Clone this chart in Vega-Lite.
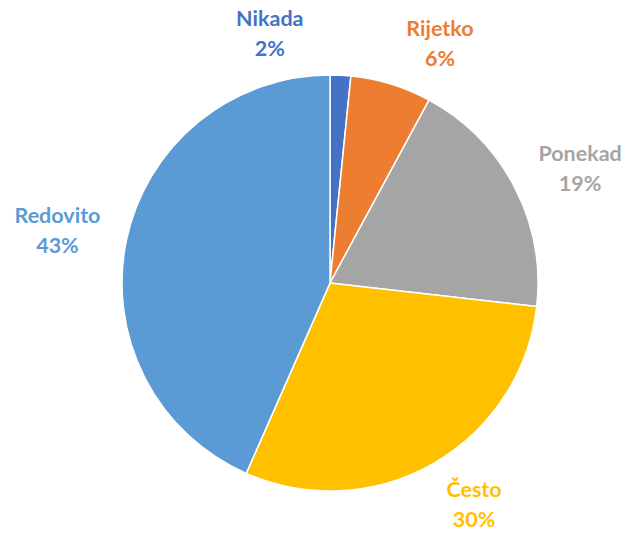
{
  "$schema": "https://vega.github.io/schema/vega-lite/v6.json",
  "width": 594,
  "height": 500,
  "autosize": {"type": "none"},
  "padding": {"left": 33, "top": 33, "right": 0, "bottom": 0},
  "background": "white",
  "config": {"view": {"stroke": null}},
  "data": {
    "values": [
      {"cat": "Nikada", "value": 1.6, "label": "Nikada\n2%"},
      {"cat": "Rijetko", "value": 6.3, "label": "Rijetko\n6%"},
      {"cat": "Ponekad", "value": 18.9, "label": "Ponekad\n19%"},
      {"cat": "Često", "value": 29.8, "label": "Često\n30%"},
      {"cat": "Redovito", "value": 43.4, "label": "Redovito\n43%"}
    ]
  },
  "transform": [
    {"window": [{"op": "sum", "field": "value", "as": "cum"}], "frame": [null, 0]},
    {"calculate": "datum.cum - datum.value", "as": "start"},
    {"calculate": "datum.cum - datum.value / 2", "as": "mid"}
  ],
  "encoding": {
    "color": {
      "field": "cat",
      "type": "nominal",
      "legend": null,
      "scale": {
        "domain": ["Nikada", "Rijetko", "Ponekad", "Često", "Redovito"],
        "range": ["#4472C4", "#ED7D31", "#A5A5A5", "#FFC000", "#5B9BD5"]
      }
    }
  },
  "layer": [
    {
      "mark": {"type": "arc", "radius": 208, "stroke": "white", "strokeWidth": 1.5},
      "encoding": {
        "theta": {"field": "start", "type": "quantitative", "scale": {"domain": [0, 100]}},
        "theta2": {"field": "cum"}
      }
    },
    {
      "transform": [{"filter": "datum.cat == 'Nikada'"}],
      "mark": {"type": "text", "radius": 255, "dx": -73, "dy": -8, "lineBreak": "\n", "lineHeight": 30, "font": "Lato", "fontWeight": "bold", "fontSize": 21.5, "baseline": "middle", "align": "center"},
      "encoding": {"theta": {"field": "mid", "type": "quantitative", "scale": {"domain": [0, 100]}}, "text": {"field": "label"}}
    },
    {
      "transform": [{"filter": "datum.cat == 'Rijetko'"}],
      "mark": {"type": "text", "radius": 255, "dx": 35, "dy": -9, "lineBreak": "\n", "lineHeight": 30, "font": "Lato", "fontWeight": "bold", "fontSize": 21.5, "baseline": "middle", "align": "center"},
      "encoding": {"theta": {"field": "mid", "type": "quantitative", "scale": {"domain": [0, 100]}}, "text": {"field": "label"}}
    },
    {
      "transform": [{"filter": "datum.cat == 'Ponekad'"}],
      "mark": {"type": "text", "radius": 255, "dx": 24, "dy": -10, "lineBreak": "\n", "lineHeight": 30, "font": "Lato", "fontWeight": "bold", "fontSize": 21.5, "baseline": "middle", "align": "center"},
      "encoding": {"theta": {"field": "mid", "type": "quantitative", "scale": {"domain": [0, 100]}}, "text": {"field": "label"}}
    },
    {
      "transform": [{"filter": "datum.cat == 'Često'"}],
      "mark": {"type": "text", "radius": 255, "dx": 17, "dy": -13, "lineBreak": "\n", "lineHeight": 30, "font": "Lato", "fontWeight": "bold", "fontSize": 21.5, "baseline": "middle", "align": "center"},
      "encoding": {"theta": {"field": "mid", "type": "quantitative", "scale": {"domain": [0, 100]}}, "text": {"field": "label"}}
    },
    {
      "transform": [{"filter": "datum.cat == 'Redovito'"}],
      "mark": {"type": "text", "radius": 255, "dx": -23, "dy": -14, "lineBreak": "\n", "lineHeight": 30, "font": "Lato", "fontWeight": "bold", "fontSize": 21.5, "baseline": "middle", "align": "center"},
      "encoding": {"theta": {"field": "mid", "type": "quantitative", "scale": {"domain": [0, 100]}}, "text": {"field": "label"}}
    }
  ]
}
